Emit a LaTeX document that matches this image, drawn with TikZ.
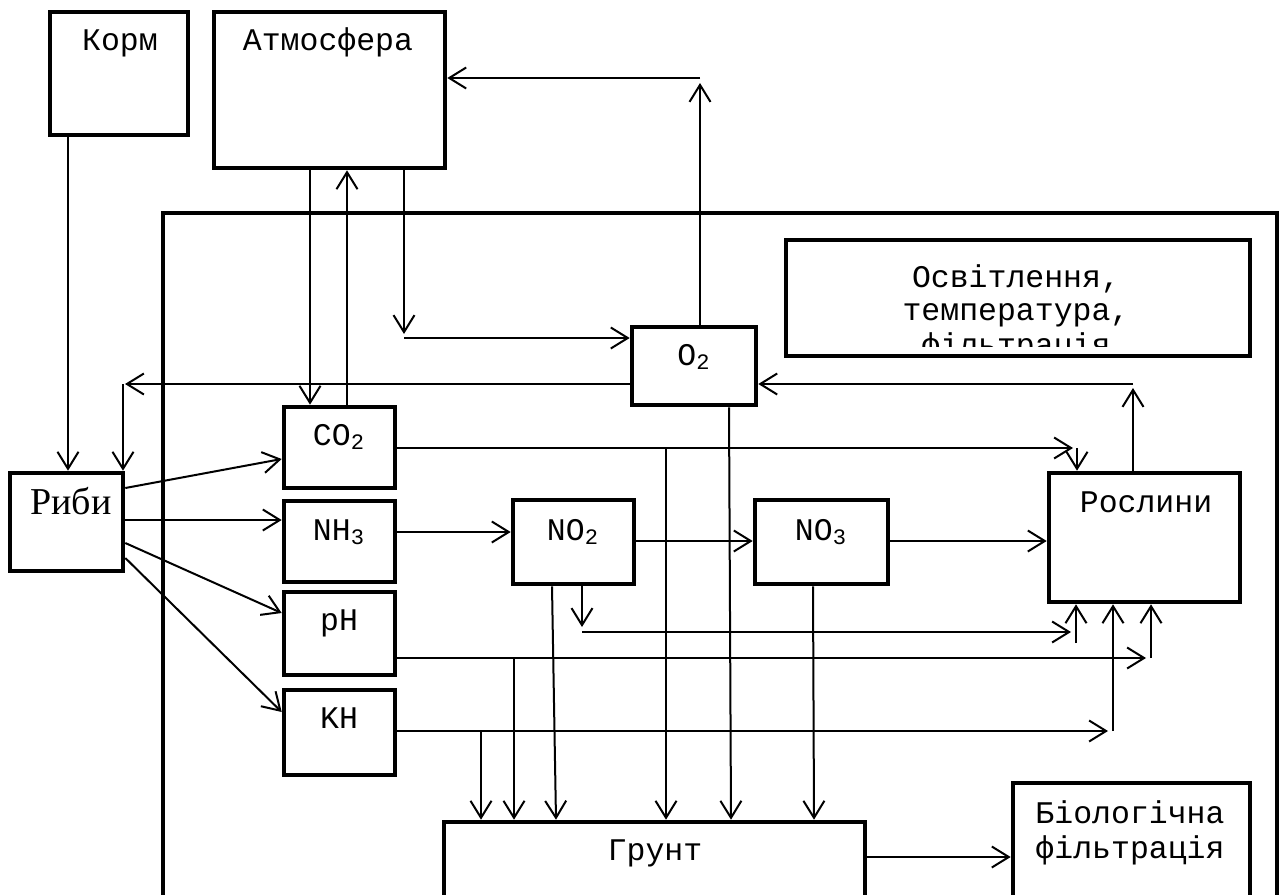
\documentclass[tikz,border=0pt]{standalone}
\usepackage{fontspec}
\setmainfont{Liberation Mono}
\newfontfamily\rybifont{Liberation Serif}
\usetikzlibrary{arrows.meta,fit}
\begin{document}
\begin{tikzpicture}[x=0.5pt,y=-0.5pt,
 box/.style={draw,line width=2.3pt,inner sep=0pt},
 arr/.style={line width=1pt,-{Straight Barb[length=8.5pt,width=10.5pt,line width=1pt]}},
 lbl/.style={anchor=base,inner sep=0pt,font=\fontsize{15.75}{18}\selectfont},
]
\useasboundingbox (0,0) rectangle (1279,894);
\clip (0,0) rectangle (1279,894);
\fill[white] (0,0) rectangle (1279,894);

% frame
\draw[line width=2.3pt] (163,930) -- (163,213) -- (1277,213) -- (1277,930);

% boxes
\node[box,fit={(50,12) (188,135)}] (korm) {};
\node[box,fit={(214,12) (445,168)}] (atm) {};
\node[box,fit={(786,240) (1250,356)}] (osv) {};
\node[box,fit={(632,327) (756,405)}] (o2) {};
\node[box,fit={(284,407) (395,488)}] (co2) {};
\node[box,fit={(284,501) (395,582)}] (nh3) {};
\node[box,fit={(284,592) (395,675)}] (ph) {};
\node[box,fit={(284,690) (395,775)}] (kh) {};
\node[box,fit={(10,473) (123,571)}] (rybi) {};
\node[box,fit={(513,500) (634,584)}] (no2) {};
\node[box,fit={(755,500) (888,584)}] (no3) {};
\node[box,fit={(1049,473) (1240,602)}] (rosl) {};
\node[box,fit={(444,822) (865,940)}] (grunt) {};
\node[box,fit={(1013,783) (1250,940)}] (bio) {};

% labels
\node[lbl] (tkorm) at (120,50) {Корм};
\node[lbl] (tatm) at (328,50) {Атмосфера};
\node[lbl] (tosa) at (1016,287) {Освітлення,};
\node[lbl] (tosb) at (1016,320) {температура,};
\begin{scope}
\clip (790,244) rectangle (1246,346);
\node[lbl] (tosc) at (1016,355) {фільтрація};
\end{scope}
\node[lbl] (to2) at (694,365) {O\textsubscript{2}};
\node[lbl] (tco2) at (339,445) {CO\textsubscript{2}};
\node[lbl] (tnh3) at (339,540) {NH\textsubscript{3}};
\node[lbl] (tph) at (339,630) {pH};
\node[lbl] (tkh) at (339,728) {KH};
\node[lbl] (tno2) at (573,540) {NO\textsubscript{2}};
\node[lbl] (tno3) at (821,540) {NO\textsubscript{3}};
\node[lbl] (trosl) at (1146,512) {Рослини};
\node[anchor=base,inner sep=0pt,font=\rybifont\fontsize{19}{22}\selectfont] (trybi) at (71,514) {Риби};
\node[lbl] (tgrunt) at (655,860) {Грунт};
\node[lbl] (tbioa) at (1130,823) {Біологічна};
\node[lbl] (tbiob) at (1130,858) {фільтрація};

% junction points
\coordinate (jA) at (404,338);
\coordinate (jB) at (700,78);
\coordinate (jC) at (123,384);
\coordinate (jD) at (1077,448);
\coordinate (jE) at (582,632);
\coordinate (jF) at (1076,643);
\coordinate (jG) at (1151,658);
\coordinate (jH) at (1113,731);
\coordinate (jI) at (1133,384);
\coordinate (jK) at (666,448);
\coordinate (jL) at (514,658);
\coordinate (jM) at (481,731);

% connectors
\draw[arr] (68,0 |- korm.south) -- (68,0 |- rybi.north);
\draw[arr] (310,0 |- atm.south) -- (310,0 |- co2.north);
\draw[arr] (347,0 |- co2.north) -- (347,0 |- atm.south);
\draw[arr] (jA |- atm.south) -- ([yshift=2pt]jA);
\draw[arr] (jA) -- (o2.west |- jA);
\draw[arr] (jB |- o2.north) -- ([yshift=-2.5pt]jB);
\draw[arr] (jB) -- (atm.east |- jB);
\draw[arr] (o2.west |- jC) -- ([xshift=1pt]jC);
\draw[arr] (jC) -- (jC |- rybi.north);

\draw[arr] (rybi.east |- 0,488) -- (co2.west |- 0,459);
\draw[arr] (rybi.east |- 0,520) -- (nh3.west |- 0,520);
\draw[arr] (rybi.east |- 0,543) -- (ph.west |- 0,613);
\draw[arr] (rybi.east |- 0,558) -- (kh.west |- 0,712);

\draw[arr] (co2.east |- jD) -- ([xshift=-2pt]jD);
\draw[arr] (jD) -- (jD |- rosl.north);
\draw[arr] (jK) -- (jK |- grunt.north);
\draw[arr] (nh3.east |- 0,532) -- (no2.west |- 0,532);
\draw[arr] (no2.east |- 0,541) -- (no3.west |- 0,541);
\draw[arr] (no3.east |- 0,541) -- (rosl.west |- 0,541);
\draw[arr] (729,0 |- o2.south) -- (731,0 |- grunt.north);
\draw[arr] (552,0 |- no2.south) -- (556,0 |- grunt.north);
\draw[arr] (jE |- no2.south) -- ([yshift=2.5pt]jE);
\draw[arr] (jE) -- ([xshift=-2.5pt]jF |- jE);
\draw[arr] (jF) -- (jF |- rosl.south);
\draw[arr] (813,0 |- no3.south) -- (814,0 |- grunt.north);
\draw[arr] (ph.east |- jG) -- ([xshift=-2.5pt]jG);
\draw[arr] (jG) -- (jG |- rosl.south);
\draw[arr] (jL) -- (jL |- grunt.north);
\draw[arr] (kh.east |- jH) -- ([xshift=-2.5pt]jH);
\draw[arr] (jH) -- (jH |- rosl.south);
\draw[arr] (jM) -- (jM |- grunt.north);
\draw[arr] (jI |- rosl.north) -- ([yshift=-2pt]jI);
\draw[arr] (jI) -- (o2.east |- jI);
\draw[arr] (grunt.east |- 0,857) -- (bio.west |- 0,857);
\end{tikzpicture}
\end{document}
